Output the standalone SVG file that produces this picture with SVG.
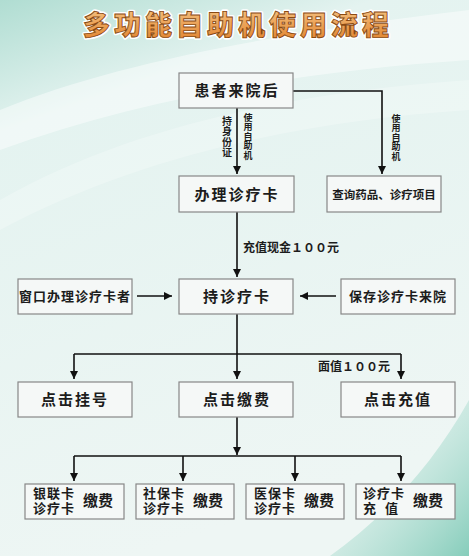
<svg xmlns="http://www.w3.org/2000/svg" width="469" height="556" viewBox="0 0 469 556">
<defs>
<linearGradient id="bg" x1="0" y1="0" x2="0.3" y2="1">
<stop offset="0" stop-color="#b0ddd2"/>
<stop offset="0.22" stop-color="#e4f3f0"/>
<stop offset="1" stop-color="#eef6f4"/>
</linearGradient>
<linearGradient id="corner" x1="0" y1="0" x2="1" y2="1">
<stop offset="0" stop-color="#d6eee8" stop-opacity="0"/>
<stop offset="1" stop-color="#86cdbb"/>
</linearGradient>
<linearGradient id="tfill" x1="0" y1="0" x2="0" y2="1">
<stop offset="0" stop-color="#f7c98a"/>
<stop offset="1" stop-color="#e07f2a"/>
</linearGradient>
<marker id="ah" markerUnits="userSpaceOnUse" markerWidth="9" markerHeight="9" refX="8" refY="4" orient="auto">
<path d="M0,0 L8,4 L0,8 z" fill="#111"/>
</marker>
<style>
.box{fill:#f5f8f7;stroke:#878787;stroke-width:1.2}
.t{font-family:"Noto Sans CJK SC","Noto Sans",sans-serif;font-weight:bold;fill:#1c1c1c}
.m{font-size:15px;letter-spacing:2px;text-anchor:middle}
.s{font-size:13px;letter-spacing:1px;text-anchor:middle}
.vt{writing-mode:vertical-rl;text-orientation:upright;letter-spacing:0.5px}
.ln{fill:none;stroke:#111;stroke-width:1.6}
.title{font-family:"Noto Sans CJK SC",sans-serif;font-weight:900;font-size:27px;letter-spacing:4px;text-anchor:middle}
</style>
</defs>
<rect width="469" height="556" fill="url(#bg)"/>
<path d="M0,110 C120,60 300,30 469,10 L469,60 C320,70 150,95 0,150 z" fill="#ffffff" opacity="0.45"/>
<path d="M0,200 C140,120 320,90 469,80 L469,110 C320,120 150,150 0,230 z" fill="#ffffff" opacity="0.25"/>
<path d="M469,400 L469,556 L330,556 C380,520 430,470 469,400 z" fill="url(#corner)"/>
<g id="title">
<text class="title" x="238" y="35" fill="none" stroke="#ffffff" stroke-width="4" stroke-linejoin="round">多功能自助机使用流程</text>
<text class="title" x="238" y="35" fill="url(#tfill)" stroke="#8a4a12" stroke-width="0.9">多功能自助机使用流程</text>
</g>
<g id="connectors">
<line class="ln" x1="237" y1="108" x2="237" y2="174" marker-end="url(#ah)"/>
<polyline class="ln" points="293,91 382,91 382,174" marker-end="url(#ah)"/>
<line class="ln" x1="237" y1="212" x2="237" y2="277" marker-end="url(#ah)"/>
<line class="ln" x1="137" y1="296" x2="172" y2="296" marker-end="url(#ah)"/>
<line class="ln" x1="336" y1="296" x2="300" y2="296" marker-end="url(#ah)"/>
<line class="ln" x1="237" y1="314" x2="237" y2="354"/>
<line class="ln" x1="74" y1="354" x2="401" y2="354"/>
<line class="ln" x1="74" y1="354" x2="74" y2="379" marker-end="url(#ah)"/>
<line class="ln" x1="237" y1="354" x2="237" y2="379" marker-end="url(#ah)"/>
<line class="ln" x1="401" y1="354" x2="401" y2="379" marker-end="url(#ah)"/>
<line class="ln" x1="237" y1="417" x2="237" y2="455" marker-end="url(#ah)"/>
<line class="ln" x1="74" y1="456" x2="401" y2="456"/>
<line class="ln" x1="74" y1="456" x2="74" y2="481" marker-end="url(#ah)"/>
<line class="ln" x1="183" y1="456" x2="183" y2="481" marker-end="url(#ah)"/>
<line class="ln" x1="295" y1="456" x2="295" y2="481" marker-end="url(#ah)"/>
<line class="ln" x1="401" y1="456" x2="401" y2="481" marker-end="url(#ah)"/>
<text class="t vt" x="227" y="116" style="font-size:10px">持身份证</text>
<text class="t vt" x="248" y="113" style="font-size:9px">使用自助机</text>
<text class="t vt" x="396" y="114" style="font-size:9px">使用自助机</text>
<text class="t" x="243" y="252" style="font-size:12px">充值现金１００元</text>
<text class="t" x="318" y="371" style="font-size:12px">面值１００元</text>
</g>
<g id="n1"><rect class="box" x="179" y="73" width="114" height="35"/><text class="t m" x="237" y="96">患者来院后</text></g>
<g id="n2"><rect class="box" x="179" y="176" width="115" height="36"/><text class="t m" x="237" y="199.5">办理诊疗卡</text></g>
<g id="n3"><rect class="box" x="327" y="176" width="114" height="36"/><text class="t" x="384" y="199" style="font-size:11.5px;text-anchor:middle">查询药品、诊疗项目</text></g>
<g id="n4"><rect class="box" x="18" y="279" width="114" height="35"/><text class="t s" x="75" y="301">窗口办理诊疗卡者</text></g>
<g id="n5"><rect class="box" x="179" y="279" width="114" height="35"/><text class="t m" x="237" y="302">持诊疗卡</text></g>
<g id="n6"><rect class="box" x="341" y="279" width="114" height="35"/><text class="t s" x="398" y="301">保存诊疗卡来院</text></g>
<g id="n7"><rect class="box" x="18" y="382" width="114" height="35"/><text class="t m" x="75" y="405">点击挂号</text></g>
<g id="n8"><rect class="box" x="179" y="382" width="114" height="35"/><text class="t m" x="237" y="405">点击缴费</text></g>
<g id="n9"><rect class="box" x="341" y="382" width="114" height="35"/><text class="t m" x="398" y="405">点击充值</text></g>
<g id="n10"><rect class="box" x="25" y="484" width="99" height="35"/><text class="t" style="font-size:13px;letter-spacing:1px"><tspan x="33" y="498">银联卡</tspan><tspan x="33" y="513">诊疗卡</tspan></text><text class="t" x="83" y="506" style="font-size:15px">缴费</text></g>
<g id="n11"><rect class="box" x="136" y="484" width="98" height="35"/><text class="t" style="font-size:13px;letter-spacing:1px"><tspan x="143" y="498">社保卡</tspan><tspan x="143" y="513">诊疗卡</tspan></text><text class="t" x="193" y="506" style="font-size:15px">缴费</text></g>
<g id="n12"><rect class="box" x="246" y="484" width="98" height="35"/><text class="t" style="font-size:13px;letter-spacing:1px"><tspan x="254" y="498">医保卡</tspan><tspan x="254" y="513">诊疗卡</tspan></text><text class="t" x="304" y="506" style="font-size:15px">缴费</text></g>
<g id="n13"><rect class="box" x="356" y="484" width="99" height="35"/><text class="t" style="font-size:13px;letter-spacing:1px"><tspan x="363" y="498">诊疗卡</tspan><tspan x="363" y="513">充</tspan><tspan x="385" y="513">值</tspan></text><text class="t" x="413" y="506" style="font-size:15px">缴费</text></g>
</svg>
